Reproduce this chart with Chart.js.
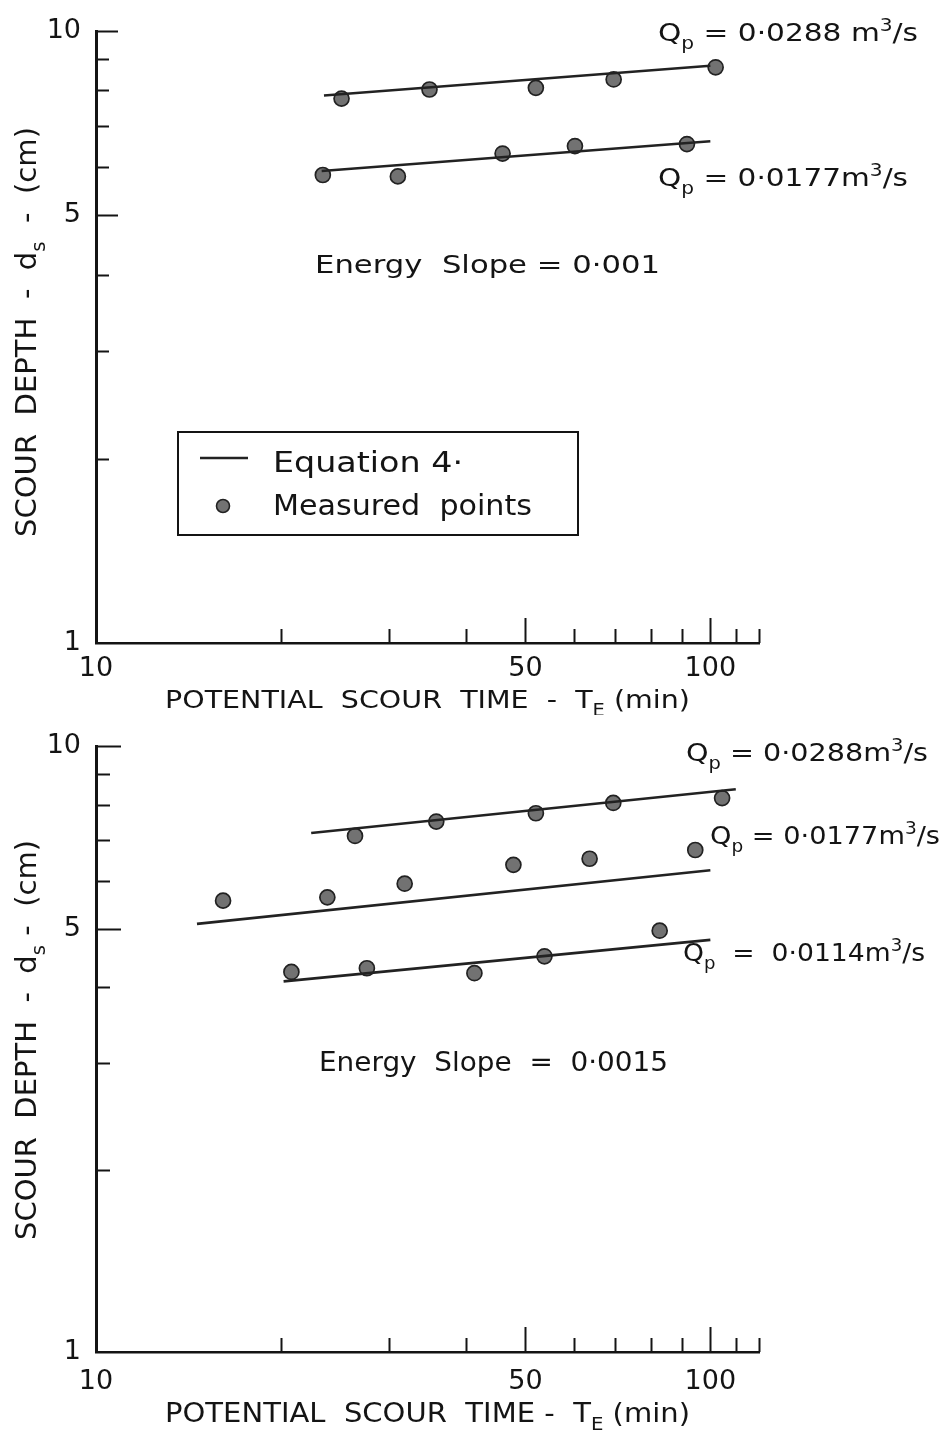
<!DOCTYPE html>
<html>
<head>
<meta charset="utf-8">
<script src="https://cdn.jsdelivr.net/npm/chart.js@4.4.1/dist/chart.umd.min.js"></script>
<style>
  html, body { margin: 0; padding: 0; background: #ffffff; }
  #wrap { position: relative; width: 945px; height: 1432px; overflow: hidden; background: #fff; }
  canvas { position: absolute; left: 0; }
</style>
</head>
<body>
<div id="wrap">
  <canvas id="c1" width="945" height="715" style="top:0px"></canvas>
  <canvas id="c2" width="945" height="717" style="top:715px"></canvas>
</div>
<script>
// ---------------- data ----------------
const X_TICKS = [10, 20, 30, 40, 50, 60, 70, 80, 90, 100, 110, 120];
const X_TICK_LABELS = [10, 50, 100];
const X_LONG_TICKS = [50, 100];
const Y_TICKS = [1, 2, 3, 4, 5, 6, 7, 8, 9, 10];
const Y_TICK_LABELS = [1, 5, 10];
const Y_LONG_TICKS = [5, 10];

// Upper panel: Energy Slope = 0.001
const top_q0288_T   = [25.1, 34.9, 52.0, 69.6, 102.0];
const top_q0288_d   = [7.76, 8.03, 8.08, 8.34, 8.73];
const top_q0288_eqT = [23.5, 100];
const top_q0288_eqD = [7.85, 8.78];
const top_q0177_T   = [23.4, 31.0, 45.9, 60.2, 91.6];
const top_q0177_d   = [5.82, 5.79, 6.31, 6.49, 6.54];
const top_q0177_eqT = [23.3, 100];
const top_q0177_eqD = [5.91, 6.61];

// Lower panel: Energy Slope = 0.0015
const bot_q0288_T   = [26.4, 35.8, 52.0, 69.5, 104.5];
const bot_q0288_d   = [7.11, 7.51, 7.75, 8.06, 8.21];
const bot_q0288_eqT = [22.4, 110];
const bot_q0288_eqD = [7.19, 8.49];
const bot_q0177_T   = [16.1, 23.8, 31.8, 47.8, 63.6, 94.5];
const bot_q0177_d   = [5.56, 5.63, 5.93, 6.37, 6.52, 6.74];
const bot_q0177_eqT = [14.6, 100];
const bot_q0177_eqD = [5.09, 6.24];
const bot_q0114_T   = [20.8, 27.6, 41.3, 53.7, 82.7];
const bot_q0114_d   = [4.24, 4.30, 4.22, 4.50, 4.96];
const bot_q0114_eqT = [20.2, 100];
const bot_q0114_eqD = [4.09, 4.79];

// ---------------- styling ----------------
const INK = '#141414';
const FONT = '"DejaVu Sans", "Liberation Sans", sans-serif';
const POINT_FILL = '#727272';

function zip(xs, ys) { return xs.map((x, i) => ({ x: x, y: ys[i] })); }

function pointsDataset(label, xs, ys) {
  return {
    label: label, data: zip(xs, ys), showLine: false,
    pointRadius: 7.5, pointHoverRadius: 7.5,
    pointBackgroundColor: POINT_FILL, pointBorderColor: '#222', pointBorderWidth: 1.7,
    order: 2
  };
}
function lineDataset(label, xs, ys) {
  return {
    label: label, data: zip(xs, ys), showLine: true, pointRadius: 0,
    borderColor: '#222', borderWidth: 2.6, fill: false, order: 1
  };
}

// rich text: parts = [[text, kind]], kind: 'n' | 'sub' | 'sup'
function drawRich(ctx, s) {
  const size = s.size;
  let W = 0;
  const items = s.parts.map(([t, k]) => {
    const fs = k === 'n' ? size : size * 0.68;
    ctx.font = fs + 'px ' + FONT;
    const w = ctx.measureText(t).width;
    const it = { t: t, k: k, fs: fs, off: W };
    W += w;
    return it;
  });
  const sx = s.width ? s.width / W : 1;
  ctx.save();
  ctx.translate(s.x, s.y);
  if (s.rotate) ctx.rotate(s.rotate);
  ctx.scale(sx, 1);
  const x0 = s.align === 'center' ? -W / 2 : 0;
  ctx.textBaseline = 'alphabetic';
  ctx.textAlign = 'left';
  ctx.fillStyle = INK;
  items.forEach(it => {
    ctx.font = it.fs + 'px ' + FONT;
    const dy = it.k === 'sub' ? size * 0.3 : (it.k === 'sup' ? -size * 0.42 : 0);
    ctx.fillText(it.t, x0 + it.off, dy);
  });
  ctx.restore();
}

const inwardTicks = {
  id: 'inwardTicks',
  afterDraw(chart, args, opts) {
    const { ctx, chartArea: a, scales: { x, y } } = chart;
    ctx.save();
    ctx.strokeStyle = INK;
    ctx.lineCap = 'butt';
    Y_TICKS.forEach(v => {
      if (v === Y_TICKS[0]) return;
      const py = Math.round(y.getPixelForValue(v)) + 0.5;
      const len = Y_LONG_TICKS.includes(v) ? opts.yLong : opts.yShort;
      ctx.lineWidth = 2;
      ctx.beginPath(); ctx.moveTo(a.left, py); ctx.lineTo(a.left + len, py); ctx.stroke();
    });
    X_TICKS.forEach(v => {
      if (v === X_TICKS[0]) return;
      const px = Math.round(x.getPixelForValue(v)) + 0.5;
      const len = X_LONG_TICKS.includes(v) ? opts.xLong : opts.xShort;
      ctx.lineWidth = 2;
      ctx.beginPath(); ctx.moveTo(px, a.bottom); ctx.lineTo(px, a.bottom - len); ctx.stroke();
    });
    ctx.restore();
  }
};

const textLayer = {
  id: 'textLayer',
  afterDraw(chart, args, opts) {
    const ctx = chart.ctx;
    (opts.items || []).forEach(it => drawRich(ctx, it));
    if (opts.legend) {
      const L = opts.legend;
      ctx.save();
      ctx.strokeStyle = INK; ctx.lineWidth = 2;
      ctx.strokeRect(L.x, L.y, L.w, L.h);
      ctx.lineWidth = 2.6; ctx.strokeStyle = '#222';
      ctx.beginPath(); ctx.moveTo(L.lineX0, L.lineY); ctx.lineTo(L.lineX1, L.lineY); ctx.stroke();
      ctx.beginPath(); ctx.arc(L.dotX, L.dotY, 6.5, 0, Math.PI * 2);
      ctx.fillStyle = POINT_FILL; ctx.fill();
      ctx.lineWidth = 1.6; ctx.strokeStyle = '#222'; ctx.stroke();
      ctx.restore();
      L.texts.forEach(t => drawRich(ctx, t));
    }
  }
};

function makeScales(xAxisHeight, xLabelPad) {
  return {
    x: {
      type: 'logarithmic', min: 10, max: 120, position: 'bottom',
      grid: { display: false, drawTicks: false },
      border: { display: true, color: INK, width: 2.5 },
      ticks: {
        autoSkip: false, maxRotation: 0, padding: xLabelPad, color: INK,
        font: { family: 'DejaVu Sans', size: 27 },
        callback: v => (X_TICK_LABELS.includes(v) ? String(v) : '')
      },
      afterBuildTicks: s => { s.ticks = X_TICKS.map(v => ({ value: v })); },
      afterFit: s => { s.height = xAxisHeight; }
    },
    y: {
      type: 'logarithmic', min: 1, max: 10, position: 'left',
      grid: { display: false, drawTicks: false },
      border: { display: true, color: INK, width: 3 },
      ticks: {
        autoSkip: false, padding: 15, color: INK,
        font: { family: 'DejaVu Sans', size: 27 },
        callback: v => (Y_TICK_LABELS.includes(v) ? String(v) : '')
      },
      afterBuildTicks: s => { s.ticks = Y_TICKS.map(v => ({ value: v })); },
      afterFit: s => { s.width = 96; }
    }
  };
}

function qLabel(x, y, width, size, value, spaced) {
  return {
    x: x, y: y, width: width, size: size,
    parts: [['Q', 'n'], ['p', 'sub'], [spaced ? ' = 0·' + value + ' m' : ' = 0·' + value + 'm', 'n'], ['3', 'sup'], ['/s', 'n']]
  };
}

// ---------------- upper chart ----------------
new Chart(document.getElementById('c1'), {
  type: 'scatter',
  data: {
    datasets: [
      lineDataset('Equation 4 (Qp = 0.0288)', top_q0288_eqT, top_q0288_eqD),
      lineDataset('Equation 4 (Qp = 0.0177)', top_q0177_eqT, top_q0177_eqD),
      pointsDataset('Measured (Qp = 0.0288)', top_q0288_T, top_q0288_d),
      pointsDataset('Measured (Qp = 0.0177)', top_q0177_T, top_q0177_d)
    ]
  },
  options: {
    responsive: false, animation: false, devicePixelRatio: 1,
    layout: { padding: { top: 27, right: 186, bottom: 0, left: 0 } },
    scales: makeScales(72, 10),
    plugins: {
      legend: { display: false }, tooltip: { enabled: false },
      inwardTicks: { yLong: 22, yShort: 13, xLong: 25, xShort: 14 },
      textLayer: {
        items: [
          qLabel(658, 41, 260, 25, '0288', true),
          qLabel(658, 186, 250, 25, '0177', false),
          { x: 315, y: 273, width: 345, size: 25, parts: [['Energy  Slope = 0·001', 'n']] },
          { x: 36, y: 332, width: 410, size: 29, rotate: -Math.PI / 2, align: 'center',
            parts: [['SCOUR  DEPTH  -  d', 'n'], ['s', 'sub'], ['  -  (cm)', 'n']] },
          { x: 165, y: 708, width: 525, size: 25,
            parts: [['POTENTIAL  SCOUR  TIME  -  T', 'n'], ['E', 'sub'], [' (min)', 'n']] }
        ],
        legend: {
          x: 178, y: 432, w: 400, h: 103,
          lineX0: 200, lineX1: 248, lineY: 458,
          dotX: 223, dotY: 506,
          texts: [
            { x: 273, y: 472, width: 190, size: 28, parts: [['Equation 4·', 'n']] },
            { x: 273, y: 515, width: 259, size: 28, parts: [['Measured  points', 'n']] }
          ]
        }
      }
    }
  },
  plugins: [inwardTicks, textLayer]
});

// ---------------- lower chart ----------------
new Chart(document.getElementById('c2'), {
  type: 'scatter',
  data: {
    datasets: [
      lineDataset('Equation 4 (Qp = 0.0288)', bot_q0288_eqT, bot_q0288_eqD),
      lineDataset('Equation 4 (Qp = 0.0177)', bot_q0177_eqT, bot_q0177_eqD),
      lineDataset('Equation 4 (Qp = 0.0114)', bot_q0114_eqT, bot_q0114_eqD),
      pointsDataset('Measured (Qp = 0.0288)', bot_q0288_T, bot_q0288_d),
      pointsDataset('Measured (Qp = 0.0177)', bot_q0177_T, bot_q0177_d),
      pointsDataset('Measured (Qp = 0.0114)', bot_q0114_T, bot_q0114_d)
    ]
  },
  options: {
    responsive: false, animation: false, devicePixelRatio: 1,
    layout: { padding: { top: 17, right: 186, bottom: 0, left: 0 } },
    scales: makeScales(80, 14),
    plugins: {
      legend: { display: false }, tooltip: { enabled: false },
      inwardTicks: { yLong: 25, yShort: 14, xLong: 25, xShort: 14 },
      textLayer: {
        items: [
          qLabel(686, 46, 242, 25, '0288', false),
          qLabel(710, 129, 230, 25, '0177', false),
          { x: 683, y: 246, width: 242, size: 25,
            parts: [['Q', 'n'], ['p', 'sub'], ['  =  0·0114m', 'n'], ['3', 'sup'], ['/s', 'n']] },
          { x: 319, y: 356, width: 349, size: 26, parts: [['Energy  Slope  =  0·0015', 'n']] },
          { x: 36, y: 325, width: 400, size: 29, rotate: -Math.PI / 2, align: 'center',
            parts: [['SCOUR  DEPTH  -  d', 'n'], ['s', 'sub'], [' -  (cm)', 'n']] },
          { x: 165, y: 707, width: 525, size: 26,
            parts: [['POTENTIAL  SCOUR  TIME -  T', 'n'], ['E', 'sub'], [' (min)', 'n']] }
        ]
      }
    }
  },
  plugins: [inwardTicks, textLayer]
});
</script>
</body>
</html>
